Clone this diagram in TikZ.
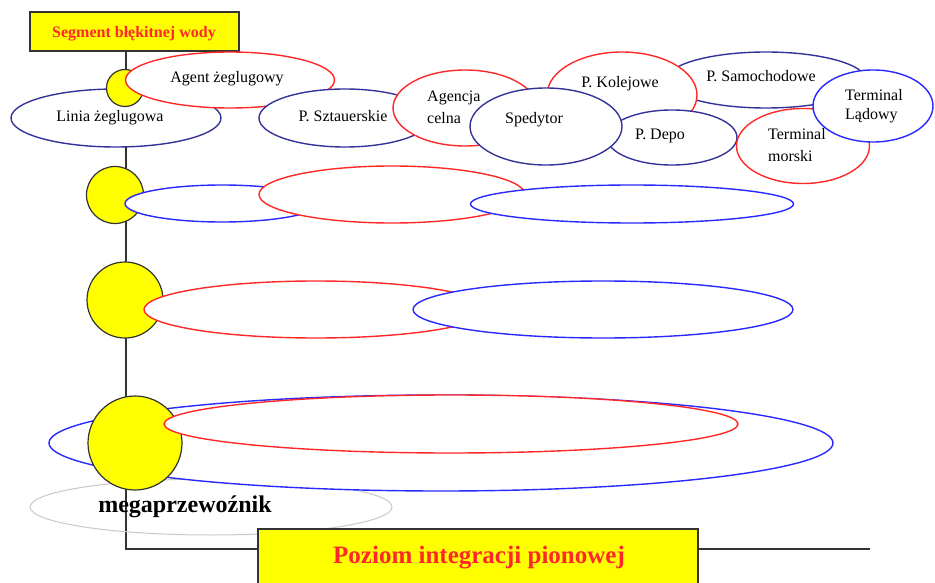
\documentclass[tikz,border=0pt]{standalone}
\usepackage{fontspec}
\setmainfont{Liberation Serif}
\usetikzlibrary{shapes.geometric}
\definecolor{navyc}{RGB}{51,51,153}
\definecolor{bluec}{RGB}{40,40,255}
\definecolor{redc}{RGB}{255,40,40}
\definecolor{grayc}{RGB}{200,200,200}
\definecolor{yel}{RGB}{255,255,0}
\tikzset{
  ell/.style={ellipse, draw, fill=white, inner sep=0pt, line width=1.4pt},
  navyell/.style={ell, draw=navyc},
  blueell/.style={ell, draw=bluec},
  redell/.style={ell, draw=redc},
  grayell/.style={ellipse, draw=grayc, inner sep=0pt, line width=1pt},
  ball/.style={circle, draw=black!80, fill=yel, line width=1.2pt, inner sep=0pt},
  ybox/.style={rectangle, draw=black!80, fill=yel, line width=1.4pt, inner sep=0pt},
  conn/.style={draw=black!80, line width=1.4pt},
  lbl/.style={font=\fontsize{16}{18}\selectfont, anchor=base, inner sep=0pt},
  lblw/.style={lbl, anchor=base west},
}
\begin{document}
\begin{tikzpicture}[x=1pt,y=-1pt]
\useasboundingbox (0,0) rectangle (935,583);
\clip (0,0) rectangle (935,583);

% boxes and axis line
\node[ybox, minimum width=209pt, minimum height=39pt] (topbox) at (134.5,31.5) {};
\coordinate (corner) at (126,549);
\coordinate (lineend) at (870,549);
\draw[conn] (topbox.south -| corner) -- (corner) -- (lineend);

% row 1
\node[navyell, minimum width=210pt, minimum height=58pt] (linia) at (116,118) {};
\node[ball, minimum size=37pt] (ball1) at (125,88) {};
\node[redell, minimum width=209pt, minimum height=56pt] (agent) at (230,80) {};
\node[navyell, minimum width=172pt, minimum height=58pt] (sztau) at (345,118) {};
\node[navyell, minimum width=200pt, minimum height=56pt] (samoch) at (766,80) {};
\node[redell, minimum width=150pt, minimum height=86pt] (kolej) at (622,95) {};
\node[navyell, minimum width=130pt, minimum height=55pt] (depo) at (672,137.5) {};
\node[redell, minimum width=144pt, minimum height=76pt] (agencja) at (465,108) {};
\node[navyell, minimum width=152pt, minimum height=77pt] (sped) at (546,126.5) {};
\node[redell, minimum width=133pt, minimum height=75pt] (tmorski) at (803,146) {};
\node[blueell, minimum width=120pt, minimum height=72pt] (tladowy) at (873,106) {};

% row 2
\node[ball, minimum size=57pt] (ball2) at (115,195) {};
\node[blueell, minimum width=194pt, minimum height=37pt] (ea) at (222,203.5) {};
\node[redell, minimum width=266pt, minimum height=57pt] (eb) at (392,194.5) {};
\node[blueell, minimum width=323pt, minimum height=38pt] (ec) at (632,204) {};

% row 3
\node[ball, minimum size=76pt] (ball3) at (125,300) {};
\node[redell, minimum width=344pt, minimum height=57pt] (ed) at (316,309.5) {};
\node[blueell, minimum width=380pt, minimum height=57pt] (ee) at (603,309.5) {};

% row 4
\node[grayell, minimum width=362pt, minimum height=56pt] (eh) at (211,507) {};
\node[blueell, minimum width=784pt, minimum height=96pt] (ef) at (441,443) {};
\node[ball, minimum size=94pt] (ball4) at (135,443) {};
\node[redell, minimum width=574pt, minimum height=58pt] (eg) at (451,424) {};

\node[ybox, minimum width=440pt, minimum height=70pt] (pbox) at (478,564) {};

% labels
\node[lbl, font=\fontsize{16}{18}\selectfont\bfseries, text=redc] (tseg) at (134,38) {Segment błękitnej wody};
\node[lbl] (tagent) at (227,83) {Agent żeglugowy};
\node[lbl] (tlinia) at (110,122) {Linia żeglugowa};
\node[lbl] (tsztau) at (343,122) {P. Sztauerskie};
\node[lblw] (tagencja) at (427,102) {Agencja};
\node[lblw] (tcelna) at (427,124) {celna};
\node[lbl] (tsped) at (534,124) {Spedytor};
\node[lbl] (tkol) at (620,88) {P. Kolejowe};
\node[lbl] (tsam) at (761,82) {P. Samochodowe};
\node[lblw] (tterm1) at (845,101) {Terminal};
\node[lblw] (tlad) at (845,120) {Lądowy};
\node[lbl] (tdepo) at (660,140) {P. Depo};
\node[lblw] (tterm2) at (768,140) {Terminal};
\node[lblw] (tmors) at (768,162) {morski};
\node[lbl, font=\fontsize{24}{28}\selectfont\bfseries] (tmega) at (185,512) {megaprzewoźnik};
\node[lbl, font=\fontsize{25}{30}\selectfont\bfseries, text=redc] (tpoz) at (479,563) {Poziom integracji pionowej};
\end{tikzpicture}
\end{document}
